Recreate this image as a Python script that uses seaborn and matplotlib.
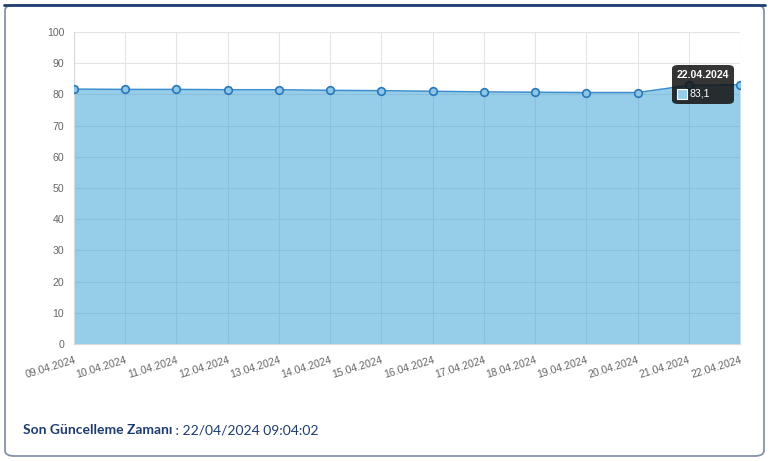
import matplotlib
matplotlib.use("Agg")
import matplotlib.pyplot as plt
from matplotlib.patches import FancyBboxPatch, Rectangle
import seaborn as sns
import pandas as pd

dates = ["09.04.2024", "10.04.2024", "11.04.2024", "12.04.2024", "13.04.2024",
         "14.04.2024", "15.04.2024", "16.04.2024", "17.04.2024", "18.04.2024",
         "19.04.2024", "20.04.2024", "21.04.2024", "22.04.2024"]
values = [81.7, 81.6, 81.6, 81.5, 81.5, 81.3, 81.2, 81.0, 80.8, 80.7,
          80.6, 80.6, 82.9, 83.1]
y_ticks = [0, 10, 20, 30, 40, 50, 60, 70, 80, 90, 100]
tooltip_title = "22.04.2024"
tooltip_value = "83,1"
footer_label = "Son Güncelleme Zamanı"
footer_value = " : 22/04/2024 09:04:02"

sns.set_style("white")
plt.rcParams['font.family'] = ['Liberation Sans', 'DejaVu Sans']

W, H = 770, 461
fig = plt.figure(figsize=(W / 100, H / 100), dpi=100)

def fx(x):
    return x / W

def fy(y):
    return 1 - y / H

# card border
card = FancyBboxPatch((fx(5), fy(456)), fx(759), 451 / H,
                      boxstyle="round,pad=0,rounding_size=0.012",
                      transform=fig.transFigure, facecolor="white",
                      edgecolor="#8593AA", linewidth=1.3, zorder=-2)
fig.patches.append(card)
fig.add_artist(plt.Line2D([fx(4), fx(765)], [fy(5), fy(5)], transform=fig.transFigure,
                          color="#1F3E72", linewidth=2.0, zorder=-1))

ax = fig.add_axes([fx(74), fy(344), fx(740) - fx(74), fy(32) - fy(344)])
ax.set_facecolor("none")
ax.patch.set_alpha(0)

df = pd.DataFrame({"date": dates, "value": values})
xs = list(range(len(dates)))
ax.fill_between(xs, 0, df["value"], color="#2F9FD5", alpha=0.5, linewidth=0, zorder=2)
sns.lineplot(data=df, x="date", y="value", ax=ax, color="#3B8FCF", linewidth=1.1,
             marker="o", markersize=5.5, markerfacecolor="#8CC6E8",
             markeredgecolor="#2A77B8", markeredgewidth=1.2, zorder=3, sort=False)

ax.set_xlim(0, len(dates) - 1)
ax.set_ylim(0, 100)
ax.set_yticks(y_ticks)
ax.set_xticks(xs)
ax.set_xticklabels(dates, rotation=17, ha="right", rotation_mode="anchor")
ax.set_xlabel("")
ax.set_ylabel("")
ax.grid(True, color="#E4E4E4", linewidth=0.8)
ax.set_axisbelow(True)
for s in ["top", "right"]:
    ax.spines[s].set_visible(False)
for s in ["left", "bottom"]:
    ax.spines[s].set_color("#DADADA")
    ax.spines[s].set_linewidth(0.8)
ax.tick_params(axis="both", colors="#666666", labelsize=7.6, length=5, width=0.8)
ax.tick_params(axis="x", color="#DADADA", pad=3)
ax.tick_params(axis="y", color="#DADADA", pad=2)

# tooltip
tip = FancyBboxPatch((fx(672), fy(104)), fx(734) - fx(672), (104 - 65) / H,
                     boxstyle="round,pad=0,rounding_size=0.008",
                     transform=fig.transFigure, facecolor="#111111", alpha=0.85,
                     edgecolor="none", zorder=10)
fig.patches.append(tip)
fig.text(fx(703), fy(75), tooltip_title, color="white", fontsize=7.6, fontweight="bold",
         ha="center", va="center", zorder=11)
fig.patches.append(Rectangle((fx(677), fy(99)), fx(10), 10 / H, transform=fig.transFigure,
                             facecolor="#97CFEA", edgecolor="white", linewidth=0.8, zorder=11))
fig.text(fx(690), fy(94), tooltip_value, color="white", fontsize=7.6,
         ha="left", va="center", zorder=11)

# footer
t1 = fig.text(fx(23), fy(430), footer_label, color="#1D3C6E", fontsize=10,
              fontweight="bold", family=["Lato", "DejaVu Sans"], ha="left", va="center")
fig.canvas.draw()
bb = t1.get_window_extent(fig.canvas.get_renderer())
fig.text(bb.x1 / W, fy(430), footer_value, color="#1D3C6E", fontsize=10,
         family=["Lato", "DejaVu Sans"], ha="left", va="center")

fig.savefig("out.png", dpi=100)
